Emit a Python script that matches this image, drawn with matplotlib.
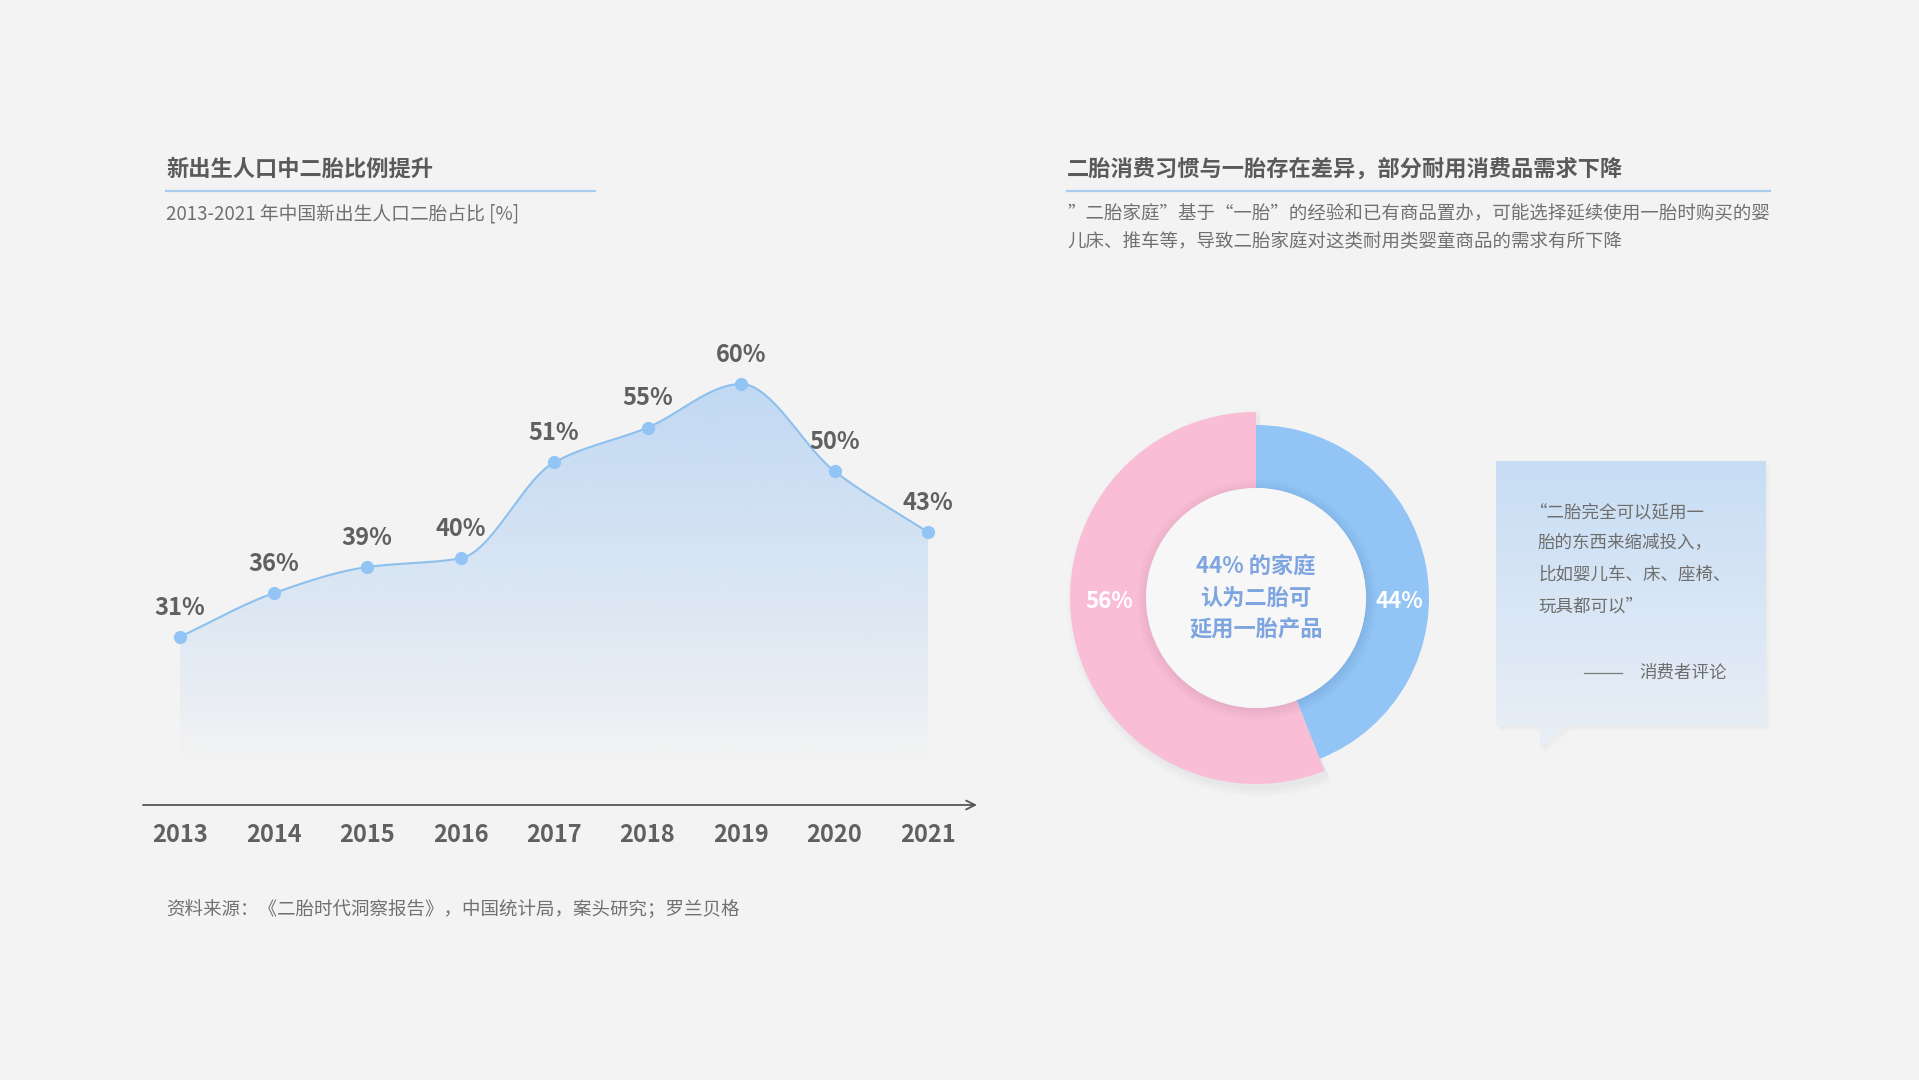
import numpy as np
import matplotlib.pyplot as plt
from matplotlib.patches import Polygon, Circle
from matplotlib.colors import to_rgb

plt.rcParams['font.family'] = ['Noto Sans CJK SC', 'DejaVu Sans']

# ---- data ----
years = [2013, 2014, 2015, 2016, 2017, 2018, 2019, 2020, 2021]
second_child_share = [31, 36, 39, 40, 51, 55, 60, 50, 43]

reuse_groups = ['可延用一胎产品', '不可延用']
reuse_share = [44, 56]

left_title = '新出生人口中二胎比例提升'
left_subtitle = '2013-2021 年中国新出生人口二胎占比 [%]'
right_title = '二胎消费习惯与一胎存在差异，部分耐用消费品需求下降'
right_body = ['”二胎家庭”基于“一胎”的经验和已有商品置办，可能选择延续使用一胎时购买的婴',
              '儿床、推车等，导致二胎家庭对这类耐用类婴童商品的需求有所下降']
center_lines = ['44% 的家庭', '认为二胎可', '延用一胎产品']
quote_lines = ['“二胎完全可以延用一', '胎的东西来缩减投入，', '比如婴儿车、床、座椅、', '玩具都可以”']
quote_sign = '消费者评论'
source_text = '资料来源：《二胎时代洞察报告》，中国统计局，案头研究；罗兰贝格'

BG = '#F3F3F3'
BLUE = '#92C4F5'
PINK = '#F9BED6'
LINE = '#8EC0EE'
GRAY_T = '#5A5A5A'
GRAY_S = '#707070'

W, H = 1919, 1080
fig = plt.figure(figsize=(W / 100, H / 100), dpi=100, facecolor=BG)


def px_axes(x0, y0, x1, y1, z=1):
    a = fig.add_axes([x0 / W, 1 - y1 / H, (x1 - x0) / W, (y1 - y0) / H], zorder=z)
    a.set_facecolor('none')
    return a


def pchip(x, y, n=80):
    x = np.asarray(x, float)
    y = np.asarray(y, float)
    h = np.diff(x)
    d = np.diff(y) / h
    m = np.zeros_like(y)
    m[0], m[-1] = d[0], d[-1]
    for i in range(1, len(y) - 1):
        if d[i - 1] * d[i] <= 0:
            m[i] = 0
        else:
            w1 = 2 * h[i] + h[i - 1]
            w2 = h[i] + 2 * h[i - 1]
            m[i] = (w1 + w2) / (w1 / d[i - 1] + w2 / d[i])
    xs, ys = [], []
    for i in range(len(h)):
        t = np.linspace(0, 1, n, endpoint=(i == len(h) - 1))
        h00 = 2 * t**3 - 3 * t**2 + 1
        h10 = t**3 - 2 * t**2 + t
        h01 = -2 * t**3 + 3 * t**2
        h11 = t**3 - t**2
        xs.append(x[i] + t * h[i])
        ys.append(h00 * y[i] + h10 * h[i] * m[i] + h01 * y[i + 1] + h11 * h[i] * m[i + 1])
    return np.concatenate(xs), np.concatenate(ys)


# ---- background layer in pixel coords ----
bg = px_axes(0, 0, W, H, z=0)
bg.set_xlim(0, W)
bg.set_ylim(H, 0)
bg.axis('off')

bg.text(166, 169, left_title, fontsize=16, fontweight='bold', color=GRAY_T, va='center')
bg.plot([166, 595], [191, 191], color='#A9CDEE', lw=1.6)
bg.text(166, 214, left_subtitle, fontsize=13.5, color=GRAY_S, va='center')

bg.text(1067, 169, right_title, fontsize=16, fontweight='bold', color=GRAY_T, va='center')
bg.plot([1067, 1770], [191, 191], color='#A9CDEE', lw=1.6)
for i, line in enumerate(right_body):
    bg.text(1067, 214 + 28 * i, line, fontsize=13.3, color=GRAY_S, va='center')

bg.text(166, 910, source_text, fontsize=13.3, color=GRAY_S, va='center')

# quote box with gradient
box_pts = [(1496, 461), (1766, 461), (1766, 726), (1567, 726), (1540, 749), (1540, 726), (1496, 726)]
for k in range(4):
    sh = Polygon([(x + 1 + k, y + 2 + k) for x, y in box_pts], closed=True,
                 facecolor='black', alpha=0.008, edgecolor='none')
    bg.add_patch(sh)
box = Polygon(box_pts, closed=True, facecolor='none', edgecolor='none')
bg.add_patch(box)
c_top, c_bot = np.array(to_rgb('#C7DDF4')), np.array(to_rgb('#EAEFF6'))
tt = np.linspace(0, 1, 256)[:, None, None]
grad = c_top * (1 - tt) + c_bot * tt
im = bg.imshow(grad, extent=[1496, 1766, 749, 461], origin='upper', aspect='auto', zorder=1)
im.set_clip_path(box)
bg.set_xlim(0, W)
bg.set_ylim(H, 0)
for i, line in enumerate(quote_lines):
    x0 = 1529 if line.startswith('“') else 1538
    bg.text(x0, 512 + 31.5 * i, line, fontsize=12.6, color='#6E6E6E', va='center', zorder=3)
bg.plot([1584, 1622], [673, 673], color='#7A7A7A', lw=0.9, zorder=3)
bg.text(1727, 673, quote_sign, fontsize=12.6, color='#6E6E6E', va='center', ha='right', zorder=3)

# ---- line chart ----
ax = px_axes(143, 330, 977, 805, z=2)
y_lo, y_hi = 11.7, 66.2
xs, ys = pchip(years, second_child_share)

fill_poly = Polygon(np.column_stack([np.r_[xs, xs[-1], xs[0]], np.r_[ys, y_lo, y_lo]]),
                    closed=True, facecolor='none', edgecolor='none')
ax.add_patch(fill_poly)
v = np.linspace(y_lo, 62, 256)
alpha = np.clip((v - 17) / (62 - 17), 0, 1) ** 0.9
fill_img = np.zeros((256, 1, 4))
fill_img[:, 0, :3] = to_rgb('#BFD8F3')
fill_img[:, 0, 3] = alpha
im2 = ax.imshow(fill_img, extent=[years[0], years[-1], y_lo, 62], origin='lower',
                aspect='auto', zorder=1)
im2.set_clip_path(fill_poly)

ax.plot(xs, ys, color=LINE, lw=1.5, zorder=3, solid_capstyle='round')
ax.plot(years, second_child_share, 'o', color=BLUE, ms=9.5, mec='none', zorder=4)
for yr, val in zip(years, second_child_share):
    ax.annotate(f'{val}%', (yr, val), xytext=(0, 21), textcoords='offset points',
                ha='center', va='center', fontsize=17, fontweight='bold', color='#606060')

ax.set_xlim(2012.604, 2021.524)
ax.set_ylim(y_lo, y_hi)
for s in ax.spines.values():
    s.set_visible(False)
ax.set_yticks([])
ax.set_xticks(years)
ax.set_xticklabels([str(y) for y in years], fontsize=17, fontweight='bold', color='#606060')
ax.tick_params(axis='x', length=0, pad=13)
ax.annotate('', xy=(1.0, 0), xytext=(0, 0), xycoords='axes fraction',
            arrowprops=dict(arrowstyle='->', color='#555555', lw=1.3,
                            mutation_scale=16, shrinkA=0, shrinkB=0))

# ---- donut ----
cx, cy = 1256, 598
dax = px_axes(cx - 230, cy - 230, cx + 230, cy + 230, z=3)
for k in range(6):
    dax.pie(reuse_share, radius=186 + k * 1.5, colors=['none', (0, 0, 0, 0.009)],
            startangle=90, counterclock=False, center=(4, -5),
            wedgeprops=dict(width=76 + k * 3, linewidth=0))
dax.pie(reuse_share, radius=173, colors=[BLUE, 'none'], startangle=90, counterclock=False,
        wedgeprops=dict(width=63, linewidth=0))
dax.pie(reuse_share, radius=186, colors=['none', PINK], startangle=90, counterclock=False,
        wedgeprops=dict(width=76, linewidth=0))
for k in range(8):
    dax.add_patch(Circle((1, -2), 110 + 1.5 * k, color='black', alpha=0.006, lw=0, zorder=5))
dax.add_patch(Circle((0, 0), 110, color='#F7F7F7', lw=0, zorder=6))
for i, line in enumerate(center_lines):
    dax.text(0, 32 - 32 * i, line, fontsize=16, fontweight='bold', color='#7EA5E0',
             ha='center', va='center', zorder=7)
dax.text(143, -3, f'{reuse_share[0]}%', fontsize=16, fontweight='bold', color='white',
         ha='center', va='center', zorder=7)
dax.text(-147, -3, f'{reuse_share[1]}%', fontsize=16, fontweight='bold', color='white',
         ha='center', va='center', zorder=7)
dax.set_xlim(-230, 230)
dax.set_ylim(-230, 230)
dax.set_aspect('equal')
dax.axis('off')

fig.savefig('out.png', dpi=100, facecolor=BG)
